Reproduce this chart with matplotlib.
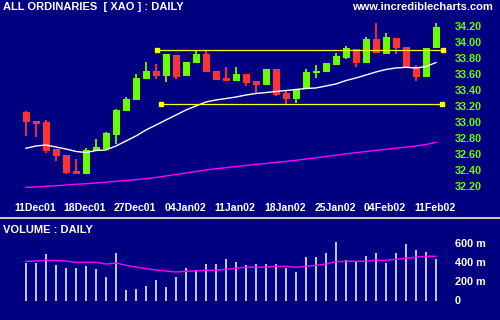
import matplotlib
matplotlib.use("Agg")
import matplotlib.pyplot as plt
import numpy as np

# daily candles, 11Dec01 .. 12Feb02
opens = [33.141, 33.025, 33.009, 32.675, 32.600, 32.400, 32.363, 32.650, 32.675, 32.850,
         33.154, 33.290, 33.554, 33.650, 33.588, 33.850, 33.588, 33.754, 33.863, 33.650,
         33.566, 33.529, 33.613, 33.525, 33.475, 33.675, 33.371, 33.304, 33.421, 33.621,
         33.641, 33.725, 33.809, 33.921, 33.754, 34.046, 33.863, 34.066, 33.954, 33.684,
         33.579, 33.941]
highs = [33.154, 33.025, 33.040, 32.675, 32.600, 32.550, 32.690, 32.800, 32.887, 33.180,
         33.325, 33.609, 33.763, 33.738, 33.863, 33.850, 33.763, 33.900, 33.913, 33.650,
         33.700, 33.700, 33.613, 33.525, 33.675, 33.675, 33.404, 33.425, 33.675, 33.725,
         33.750, 33.879, 33.966, 33.921, 34.079, 34.254, 34.129, 34.066, 33.954, 33.725,
         33.941, 34.254]
lows = [32.840, 32.830, 32.629, 32.529, 32.363, 32.363, 32.363, 32.650, 32.663, 32.740,
        33.154, 33.290, 33.554, 33.554, 33.516, 33.554, 33.588, 33.754, 33.641, 33.538,
        33.529, 33.529, 33.466, 33.375, 33.475, 33.338, 33.225, 33.250, 33.421, 33.566,
        33.641, 33.725, 33.800, 33.704, 33.754, 33.871, 33.863, 33.863, 33.691, 33.529,
        33.579, 33.941]
closes = [33.017, 32.990, 32.654, 32.588, 32.379, 32.363, 32.663, 32.696, 32.871, 33.163,
          33.296, 33.559, 33.650, 33.588, 33.863, 33.579, 33.763, 33.863, 33.641, 33.538,
          33.529, 33.609, 33.504, 33.479, 33.675, 33.350, 33.304, 33.425, 33.641, 33.654,
          33.746, 33.838, 33.934, 33.746, 34.046, 33.871, 34.071, 33.934, 33.691, 33.579,
          33.941, 34.196]
ma_short = [32.684, 32.713, 32.725, 32.700, 32.675, 32.644, 32.631, 32.656, 32.663, 32.713,
            32.775, 32.838, 32.913, 32.975, 33.038, 33.100, 33.163, 33.213, 33.263, 33.288,
            33.306, 33.325, 33.350, 33.369, 33.381, 33.394, 33.406, 33.419, 33.431, 33.438,
            33.463, 33.488, 33.531, 33.563, 33.600, 33.638, 33.669, 33.688, 33.696, 33.688,
            33.706, 33.756]
ma_long = [32.196, 32.200, 32.209, 32.216, 32.225, 32.234, 32.241, 32.250, 32.260, 32.271,
           32.281, 32.293, 32.304, 32.319, 32.338, 32.356, 32.375, 32.394, 32.413, 32.428,
           32.441, 32.456, 32.469, 32.483, 32.495, 32.508, 32.520, 32.534, 32.550, 32.565,
           32.581, 32.598, 32.614, 32.629, 32.644, 32.658, 32.671, 32.685, 32.699, 32.713,
           32.731, 32.759]
volume = [403, 403, 495, 379, 347, 347, 368, 337, 253, 508,
          116, 126, 158, 221, 147, 253, 347, 326, 389, 389,
          442, 410, 379, 389, 389, 389, 347, 305, 463, 463,
          505, 621, 432, 410, 474, 505, 400, 505, 600, 537,
          516, 442]
volume_ma = [418, 421, 428, 426, 421, 407, 407, 407, 389, 400,
             376, 358, 340, 326, 316, 305, 313, 316, 323, 323,
             334, 344, 358, 355, 358, 365, 365, 355, 365, 376,
             389, 414, 418, 418, 418, 428, 428, 439, 449, 460,
             471, 471]

date_labels = ["11Dec01", "18Dec01", "27Dec01", "04Jan02", "11Jan02",
               "18Jan02", "25Jan02", "04Feb02", "11Feb02"]
date_idx = [0, 5, 10, 15, 20, 25, 30, 35, 40]
price_ticks = [34.20, 34.00, 33.80, 33.60, 33.40, 33.20, 33.00, 32.80, 32.60, 32.40, 32.20]
volume_ticks = [600, 400, 200, 0]

# trend lines: (start index, end index, level)
resistance = (13.1, 41.7, 33.9125)
support = (13.5, 41.6, 33.2375)

BG = "#000080"
GREEN = "#66ff00"
RED = "#ff3333"
FONT = "Liberation Sans"
LABEL_X = 42.9  # column of the right-hand scale

fig = plt.figure(figsize=(5, 3.2), dpi=100)
fig.patch.set_facecolor(BG)

# price panel: pixel rows 0..216
ax = fig.add_axes([0, 1 - 216 / 320, 1, 216 / 320])
ax.set_facecolor(BG)
ax.set_xlim(-2.6, 47.4)
ax.set_ylim(31.8375, 34.5375)
ax.axis("off")

o = np.array(opens)
c = np.array(closes)
x = np.arange(len(o))
up = c >= o
colors = np.where(up, GREEN, RED)
ax.vlines(x, lows, highs, colors=colors, lw=1.3)
ax.bar(x, np.maximum(np.abs(c - o), 0.008), bottom=np.minimum(o, c),
       width=0.7, color=colors, linewidth=0)

ax.plot(x, ma_short, color="white", lw=1.0)
ax.plot(x, ma_long, color="#ff00ff", lw=1.0)

for x0, x1, lvl in (resistance, support):
    ax.plot([x0, x1], [lvl, lvl], color="yellow", lw=0.9)
    ax.plot([x0, x1], [lvl, lvl], ls="none", marker="s", ms=3.2, color="yellow")

for p in price_ticks:
    ax.text(LABEL_X, p, "%.2f" % p, color=GREEN, fontsize=7.8, fontweight="bold",
            family=FONT, ha="left", va="center")

for i, lab in zip(date_idx, date_labels):
    ax.text(i + 0.9, 31.9375, lab, color="white", fontsize=7.6, fontweight="bold",
            family=FONT, ha="center", va="center")

fig.text(3 / 500, 1 - 7 / 320, "ALL ORDINARIES  [ XAO ] : DAILY", color="white",
         fontsize=8, fontweight="bold", family=FONT, ha="left", va="center")
fig.text(493 / 500, 1 - 7 / 320, "www.incrediblecharts.com", color="white",
         fontsize=8, fontweight="bold", family=FONT, ha="right", va="center")

# separator
fig.add_artist(plt.Line2D([0, 1], [1 - 217.5 / 320] * 2, color="#c8c8c8", lw=1.5))

# volume panel: pixel rows 220..320
axv = fig.add_axes([0, 0, 1, 100 / 320])
axv.set_facecolor(BG)
axv.set_xlim(-2.6, 47.4)
axv.set_ylim(-200, 852.6)
axv.axis("off")
axv.vlines(x, 0, volume, colors="white", lw=1.1)
axv.plot(x, volume_ma, color="#ff00ff", lw=1.0)
for v in volume_ticks:
    axv.text(LABEL_X, v, "%d m" % v if v else "0", color="white", fontsize=7.8,
             fontweight="bold", family=FONT, ha="left", va="center")
axv.text(0.006, 0.9, "VOLUME : DAILY", transform=axv.transAxes, color="white",
         fontsize=8, fontweight="bold", family=FONT, ha="left", va="center")

fig.savefig("out.png", dpi=100, facecolor=BG)
